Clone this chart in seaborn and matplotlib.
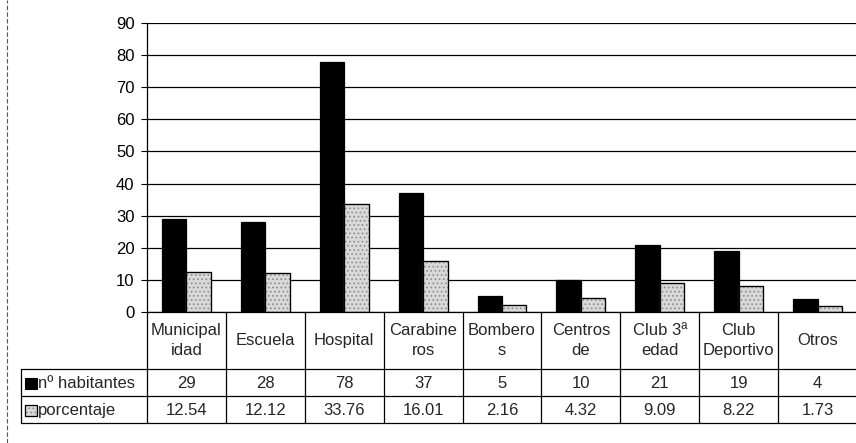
import matplotlib
matplotlib.use("Agg")
import matplotlib.pyplot as plt
from matplotlib.lines import Line2D
from matplotlib.patches import Rectangle
import seaborn as sns
import pandas as pd

categorias = ["Municipalidad", "Escuela", "Hospital", "Carabineros", "Bomberos",
              "Centros de", "Club 3ª edad", "Club Deportivo", "Otros"]
etiquetas = ["Municipal\nidad", "Escuela", "Hospital", "Carabine\nros", "Bombero\ns",
             "Centros\nde", "Club 3ª\nedad", "Club\nDeportivo", "Otros"]
habitantes = [29, 28, 78, 37, 5, 10, 21, 19, 4]
porcentaje = [12.54, 12.12, 33.76, 16.01, 2.16, 4.32, 9.09, 8.22, 1.73]
series = ["nº habitantes", "porcentaje"]
porcentaje_txt = ["12.54", "12.12", "33.76", "16.01", "2.16", "4.32", "9.09", "8.22", "1.73"]
yticks = [0, 10, 20, 30, 40, 50, 60, 70, 80, 90]

sns.set_theme(style="white")
plt.rcParams['font.family'] = ['Liberation Sans', 'DejaVu Sans']
plt.rcParams['hatch.linewidth'] = 0.7

df = pd.DataFrame({
    "categoria": categorias * 2,
    "serie": [series[0]] * len(categorias) + [series[1]] * len(categorias),
    "valor": habitantes + porcentaje,
})

W, H = 856, 443
fig = plt.figure(figsize=(W / 100, H / 100), dpi=100)

x0, x1 = 147, 857
y_top, y_zero = 23, 312
ax = fig.add_axes([x0 / W, (H - y_zero) / H, (x1 - x0) / W, (y_zero - y_top) / H])

grey = "#d9d9d9"
sns.barplot(data=df, x="categoria", y="valor", hue="serie",
            palette=["#000000", grey], width=0.62, ax=ax,
            edgecolor="black", linewidth=0.9, legend=False, saturation=1)
for p in list(ax.containers[1]):
    p.set_hatch("....")
    p.set_edgecolor("#8c8c8c")
    ax.add_patch(Rectangle(p.get_xy(), p.get_width(), p.get_height(), fill=False,
                           edgecolor="black", linewidth=0.9, zorder=p.get_zorder() + 0.1))

ax.set_xlim(-0.5, 8.5)
ax.set_ylim(0, 90)
ax.set_yticks(yticks)
ax.set_yticklabels([str(t) for t in yticks], fontsize=12)
ax.set_xticks([])
ax.set_xlabel("")
ax.set_ylabel("")
ax.yaxis.grid(True, color="black", linewidth=0.9)
ax.set_axisbelow(True)
ax.tick_params(axis="y", left=True, length=4, width=0.8, color="black", pad=5, labelcolor="black")
for s in ["top", "right"]:
    ax.spines[s].set_visible(False)
ax.spines["left"].set_color("black")
ax.spines["left"].set_linewidth(0.9)
ax.spines["bottom"].set_color("black")
ax.spines["bottom"].set_linewidth(0.9)

# table axes
y_r1, y_r2, y_end = 369, 396, 423
x_head = 21
tab = fig.add_axes([x0 / W, (H - y_end) / H, (x1 - x0) / W, (y_end - y_zero) / H])
tab.set_xlim(-0.5, 8.5)
tab.set_ylim(y_end - y_zero, 0)
tab.axis("off")
colw = (x1 - x0) / 9.0
xh = -0.5 - (x0 - x_head) / colw
r1 = y_r1 - y_zero
r2 = y_r2 - y_zero
r3 = y_end - y_zero
lw = 0.9
kw = dict(color="black", linewidth=lw, clip_on=False)
for i in range(10):
    xv = -0.5 + i
    tab.add_line(Line2D([xv, xv], [0, r3], **kw))
tab.add_line(Line2D([xh, xh], [r1, r3], **kw))
for yv in [r1, r2, r3]:
    tab.add_line(Line2D([xh, 8.5], [yv, yv], **kw))

fs = 12
for i, lab in enumerate(etiquetas):
    tab.text(i, r1 / 2, lab, ha="center", va="center", fontsize=fs,
             linespacing=1.35, clip_on=False)
    tab.text(i, (r1 + r2) / 2 + 1, str(habitantes[i]), ha="center", va="center", fontsize=fs)
    tab.text(i, (r2 + r3) / 2 + 1, porcentaje_txt[i], ha="center", va="center", fontsize=fs)

kx = xh + 4 / colw
ksz = 12 / colw
for j, (yy0, yy1) in enumerate([(r1, r2), (r2, r3)]):
    yc = (yy0 + yy1) / 2
    if j == 0:
        rect = Rectangle((kx, yc - 5), ksz, 11, facecolor="black", edgecolor="black",
                         linewidth=0.8, clip_on=False)
        tab.add_patch(rect)
    else:
        rect = Rectangle((kx, yc - 5), ksz, 11, facecolor=grey, edgecolor="#8c8c8c",
                         hatch="....", linewidth=0.8, clip_on=False)
        tab.add_patch(rect)
        tab.add_patch(Rectangle((kx, yc - 5), ksz, 11, fill=False, edgecolor="black",
                                linewidth=0.9, clip_on=False))
    tab.text(kx + ksz + 1 / colw, yc + 1, series[j], ha="left", va="center", fontsize=fs,
             clip_on=False)

fig.add_artist(Line2D([7 / W, 7 / W], [0, 1], color="#555555", linewidth=0.8,
                      linestyle=(0, (4, 2)), transform=fig.transFigure))

fig.savefig("out.png", dpi=100)
